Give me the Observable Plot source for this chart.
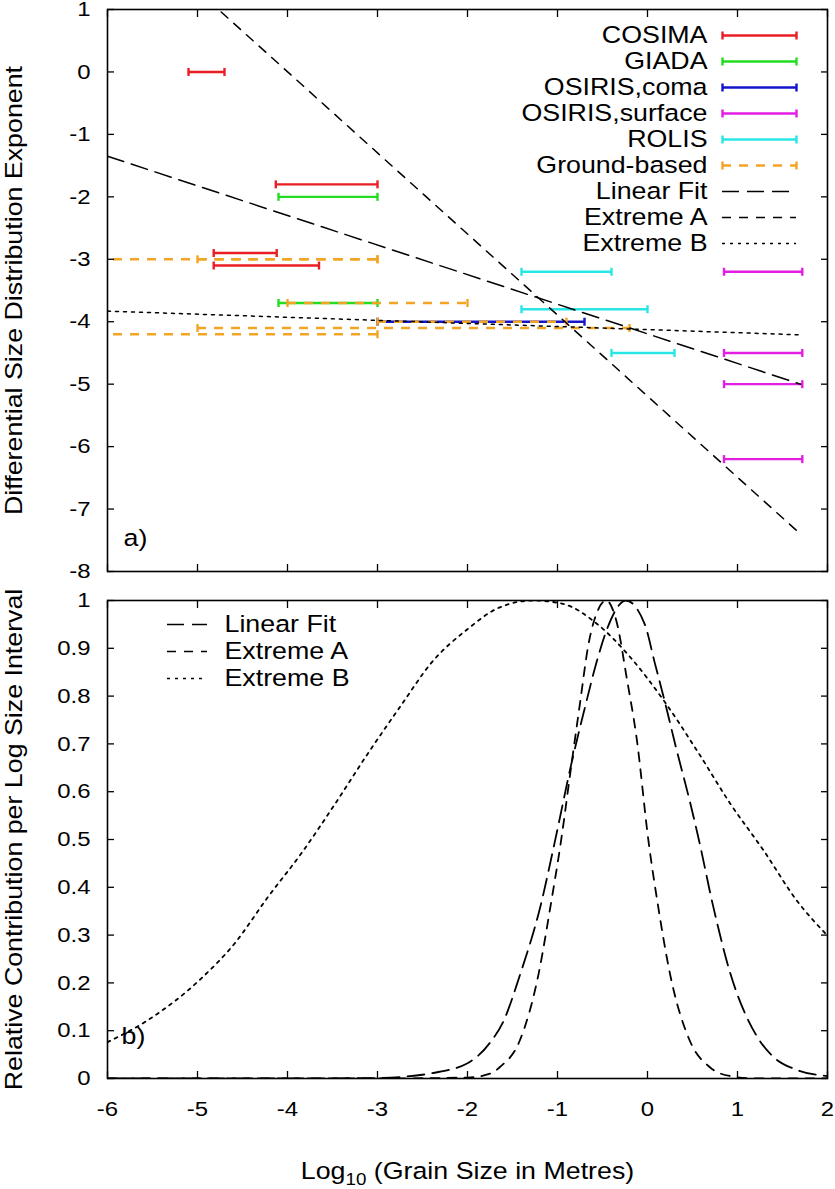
<!DOCTYPE html>
<html><head><meta charset="utf-8">
<script src="https://cdn.jsdelivr.net/npm/d3@7"></script>
<script src="https://cdn.jsdelivr.net/npm/@observablehq/plot@0.6"></script>
<style>
html,body{margin:0;padding:0;background:#fff;overflow:hidden;}
#wrap{position:relative;width:835px;height:1189px;}
#wrap svg{position:absolute;left:0;}
</style></head><body><div id="wrap"></div>
<script>
// ---------- tick values ----------
const xTicks = [-6, -5, -4, -3, -2, -1, 0, 1, 2];
const yTicksA = [-8, -7, -6, -5, -4, -3, -2, -1, 0, 1];
const yTicksB = [0, 0.1, 0.2, 0.3, 0.4, 0.5, 0.6, 0.7, 0.8, 0.9, 1];

// ---------- panel a) error bars (log10 size range, exponent) ----------
const cosimaLo = [-5.1, -4.13, -4.82, -4.82];
const cosimaHi = [-4.7, -3.0, -4.12, -3.65];
const cosimaY  = [0, -1.8, -2.9, -3.1];
const giadaLo = [-4.1, -4.1];
const giadaHi = [-3.0, -3.0];
const giadaY  = [-2.0, -3.7];
const osirisComaLo = [-3.0];
const osirisComaHi = [-0.7];
const osirisComaY  = [-4.0];
const osirisSurfLo = [0.85, 0.85, 0.85, 0.85];
const osirisSurfHi = [1.72, 1.72, 1.72, 1.72];
const osirisSurfY  = [-3.2, -4.5, -5.0, -6.2];
const rolisLo = [-1.4, -1.4, -0.4];
const rolisHi = [-0.4, 0.0, 0.3];
const rolisY  = [-3.2, -3.8, -4.5];
const groundLo = [-6.5, -5.0, -4.0, -3.0, -5.0, -6.5];
const groundHi = [-3.0, -3.0, -2.0, -0.9, -0.2, -3.0];
const groundY  = [-3.0, -3.0, -3.7, -4.0, -4.1, -4.2];

// ---------- panel a) fitted lines ----------
const fitX = [-6, 1.7],  fitY = [-1.35, -5.0];
const extAX = [-6, 1.7], extAY = [2.6, -7.4];
const extBX = [-6, 1.7], extBY = [-3.83, -4.21];

// ---------- panel b) curves (read from picture) ----------
const linX = [-6, -4, -3, -2.75, -2.4, -2.0, -1.75, -1.6, -1.42, -1.19, -1.03, -0.85, -0.69, -0.56, -0.45, -0.24, -0.03, 0.08, 0.19, 0.32, 0.47, 0.57, 0.73, 0.92, 1.21, 1.4, 1.66, 2.0];
const linY = [0, 0, 0.001, 0.003, 0.011, 0.032, 0.075, 0.12, 0.215, 0.36, 0.495, 0.655, 0.78, 0.875, 0.94, 1.0, 0.95, 0.87, 0.79, 0.69, 0.58, 0.5, 0.36, 0.22, 0.09, 0.045, 0.018, 0.005];
const aX = [-6, -3, -2.0, -1.75, -1.64, -1.42, -1.21, -1.08, -0.96, -0.85, -0.75, -0.66, -0.55, -0.46, -0.34, -0.23, -0.12, 0.01, 0.12, 0.25, 0.47, 0.69, 0.92, 1.2, 2];
const aY = [0, 0, 0.002, 0.01, 0.024, 0.079, 0.219, 0.358, 0.498, 0.65, 0.785, 0.904, 0.98, 1.0, 0.953, 0.837, 0.711, 0.498, 0.358, 0.219, 0.079, 0.024, 0.005, 0, 0];
const bX = [-6, -5.56, -4.96, -4.59, -4.22, -3.85, -3.48, -3.11, -2.74, -2.4, -2.0, -1.65, -1.27, -0.94, -0.56, -0.19, 0.18, 0.55, 0.92, 1.29, 1.66, 2.0];
const bY = [0.076, 0.121, 0.209, 0.282, 0.379, 0.47, 0.572, 0.679, 0.78, 0.87, 0.94, 0.985, 1.0, 0.993, 0.951, 0.881, 0.791, 0.686, 0.575, 0.477, 0.372, 0.299];

// ---------- legend labels ----------
const legendA = ["COSIMA", "GIADA", "OSIRIS,coma", "OSIRIS,surface", "ROLIS", "Ground-based", "Linear Fit", "Extreme A", "Extreme B"];
const legendB = ["Linear Fit", "Extreme A", "Extreme B"];

// ---------- styles ----------
const FONT = '"Liberation Sans", Arial, Helvetica, sans-serif';
const C = {red: "#ea1c24", green: "#22dd22", blue: "#1414cc", magenta: "#e21ee2", cyan: "#28e6e6", orange: "#f2a524", black: "#000"};
const DASH = {fit: "17,8", extA: "9,8", extB: "3,5", ground: "9,8"};
const cap = {draw(ctx, size) { const h = Math.sqrt(size / Math.PI); ctx.moveTo(0, -h); ctx.lineTo(0, h); }};
const W = 835;
const ML = 107, MR = 8;
const FS_TICK = 21, FS_TEXT = 23.5, STRETCH = 1.14;

function pts(xs, ys) { return xs.map((x, i) => ({x, y: ys[i]})); }
function bars(lo, hi, ys, color, dash) {
  const data = ys.map((y, i) => ({lo: lo[i], hi: hi[i], y}));
  const o = {stroke: color, strokeWidth: 2.4, clip: true};
  return [
    Plot.ruleY(data, {y: "y", x1: "lo", x2: "hi", ...o, strokeDasharray: dash}),
    Plot.dot(data, {x: "lo", y: "y", symbol: cap, r: 4, fill: "none", ...o}),
    Plot.dot(data, {x: "hi", y: "y", symbol: cap, r: 4, fill: "none", ...o})
  ];
}
function inTicks(yt) {
  const o = {tickSize: -7, tickFormat: () => "", strokeWidth: 1.3, label: null};
  return [
    Plot.axisX(xTicks, {anchor: "bottom", ...o}),
    Plot.axisX(xTicks, {anchor: "top", ...o}),
    Plot.axisY(yt, {anchor: "left", ...o}),
    Plot.axisY(yt, {anchor: "right", ...o})
  ];
}
// widen glyphs horizontally (along text direction) to match the reference lettering
function stretchText(svg) {
  svg.querySelectorAll("text").forEach(t => {
    if (!t.textContent) return;
    const tr = t.getAttribute("transform") || "";
    t.setAttribute("transform", (tr + ` scale(${STRETCH},1)`).trim());
  });
}

// ---------- panel a ----------
const HA = 586;
const panelA = Plot.plot({
  width: W, height: HA, marginTop: 9, marginBottom: 15, marginLeft: ML, marginRight: MR,
  style: {fontFamily: FONT, color: "#000", background: "transparent", overflow: "visible"},
  x: {domain: [-6, 2]},
  y: {domain: [-8, 1]},
  marks: [
    ...bars(cosimaLo, cosimaHi, cosimaY, C.red),
    ...bars(giadaLo, giadaHi, giadaY, C.green),
    ...bars(osirisComaLo, osirisComaHi, osirisComaY, C.blue),
    ...bars(osirisSurfLo, osirisSurfHi, osirisSurfY, C.magenta),
    ...bars(rolisLo, rolisHi, rolisY, C.cyan),
    ...bars(groundLo, groundHi, groundY, C.orange, DASH.ground),
    Plot.line(pts(fitX, fitY), {x: "x", y: "y", stroke: "#000", strokeWidth: 1.5, strokeDasharray: DASH.fit, clip: true}),
    Plot.line(pts(extAX, extAY), {x: "x", y: "y", stroke: "#000", strokeWidth: 1.5, strokeDasharray: DASH.extA, clip: true}),
    Plot.line(pts(extBX, extBY), {x: "x", y: "y", stroke: "#000", strokeWidth: 1.5, strokeDasharray: DASH.extB, clip: true}),
    Plot.frame({stroke: "#000", strokeWidth: 1.6}),
    ...inTicks(yTicksA),
    Plot.axisY(yTicksA, {anchor: "left", tickSize: 0, tickPadding: 17, tickFormat: d => String(d), fontSize: FS_TICK, label: null}),
    Plot.text(["Differential Size Distribution Exponent"], {frameAnchor: "left", rotate: -90, dx: -93, fontSize: FS_TEXT, textAnchor: "middle", lineAnchor: "middle"}),
    Plot.text(["a)"], {frameAnchor: "bottom-left", dx: 16, dy: -33, fontSize: FS_TEXT, textAnchor: "start", lineAnchor: "middle"})
  ]
});
panelA.style.top = "0px";

// legend overlay for panel a
const itemsA = [
  {name: legendA[0], color: C.red, bar: true},
  {name: legendA[1], color: C.green, bar: true},
  {name: legendA[2], color: C.blue, bar: true},
  {name: legendA[3], color: C.magenta, bar: true},
  {name: legendA[4], color: C.cyan, bar: true},
  {name: legendA[5], color: C.orange, bar: true, dash: DASH.ground},
  {name: legendA[6], color: C.black, dash: DASH.fit},
  {name: legendA[7], color: C.black, dash: DASH.extA},
  {name: legendA[8], color: C.black, dash: DASH.extB}
];
function legendMarks(items, textSide, textDx, fontSize) {
  const marks = [];
  for (const it of items) {
    const row = [it];
    const w = it.bar ? 2.4 : 1.5;
    marks.push(Plot.ruleY(row, {y: "name", x1: () => 0, x2: () => 1, stroke: it.color, strokeWidth: w, strokeDasharray: it.dash}));
    if (it.bar) {
      marks.push(Plot.dot(row, {x: () => 0, y: "name", symbol: cap, r: 4, fill: "none", stroke: it.color, strokeWidth: w}));
      marks.push(Plot.dot(row, {x: () => 1, y: "name", symbol: cap, r: 4, fill: "none", stroke: it.color, strokeWidth: w}));
    }
  }
  marks.push(Plot.text(items, {x: () => textSide, y: "name", text: "name", textAnchor: textSide === 0 ? "end" : "start", dx: textDx, fontSize, lineAnchor: "middle"}));
  return marks;
}
const legA = Plot.plot({
  width: W, height: HA, margin: 0,
  style: {fontFamily: FONT, color: "#000", background: "transparent", overflow: "visible", pointerEvents: "none"},
  x: {domain: [0, 1], range: [722, 796], axis: null},
  y: {type: "point", domain: legendA, range: [31.7, 246.7], padding: 0, axis: null},
  marks: legendMarks(itemsA, 0, -15, FS_TEXT)
});
legA.style.top = "0px";

// ---------- panel b ----------
const HB = 1189 - HA;
const panelB = Plot.plot({
  width: W, height: HB, marginTop: 14, marginBottom: HB - 14 - 478, marginLeft: ML, marginRight: MR,
  style: {fontFamily: FONT, color: "#000", background: "transparent", overflow: "visible"},
  x: {domain: [-6, 2]},
  y: {domain: [0, 1]},
  marks: [
    Plot.text(["b)"], {frameAnchor: "bottom-left", dx: 14, dy: -42, fontSize: FS_TEXT, textAnchor: "start", lineAnchor: "middle"}),
    Plot.line(pts(linX, linY), {x: "x", y: "y", curve: "monotone-x", stroke: "#000", strokeWidth: 1.8, strokeDasharray: DASH.fit, clip: true}),
    Plot.line(pts(aX, aY), {x: "x", y: "y", curve: "monotone-x", stroke: "#000", strokeWidth: 1.8, strokeDasharray: DASH.extA, clip: true}),
    Plot.line(pts(bX, bY), {x: "x", y: "y", curve: "monotone-x", stroke: "#000", strokeWidth: 1.8, strokeDasharray: DASH.extB, clip: true}),
    Plot.frame({stroke: "#000", strokeWidth: 1.6}),
    ...inTicks(yTicksB),
    Plot.axisY(yTicksB, {anchor: "left", tickSize: 0, tickPadding: 17, tickFormat: d => String(d), fontSize: FS_TICK, label: null}),
    Plot.axisX(xTicks, {anchor: "bottom", tickSize: 0, tickPadding: 23, tickFormat: d => String(d), fontSize: FS_TICK, label: null}),
    Plot.text(["Relative Contribution per Log Size Interval"], {frameAnchor: "left", rotate: -90, dx: -93, fontSize: FS_TEXT, textAnchor: "middle", lineAnchor: "middle"}),
    Plot.text(["Log10 (Grain Size in Metres)"], {frameAnchor: "bottom", dy: 100, fontSize: FS_TEXT, textAnchor: "middle", lineAnchor: "bottom"})
  ]
});
panelB.style.top = HA + "px";

const itemsB = [
  {name: legendB[0], color: C.black, dash: DASH.fit},
  {name: legendB[1], color: C.black, dash: DASH.extA},
  {name: legendB[2], color: C.black, dash: DASH.extB}
];
const legB = Plot.plot({
  width: W, height: HB, margin: 0,
  style: {fontFamily: FONT, color: "#000", background: "transparent", overflow: "visible", pointerEvents: "none"},
  x: {domain: [0, 1], range: [167, 207], axis: null},
  y: {type: "point", domain: legendB, range: [623.3 - HA, 678.3 - HA], padding: 0, axis: null},
  marks: legendMarks(itemsB, 1, 17, FS_TEXT)
});
legB.style.top = HA + "px";

// subscript "10" in the x-axis title
const NS = "http://www.w3.org/2000/svg";
const xt = [...panelB.querySelectorAll("text")].find(e => e.textContent.startsWith("Log10"));
if (xt) {
  const rest = xt.textContent.slice(5);
  xt.textContent = "Log";
  const sub = document.createElementNS(NS, "tspan");
  sub.setAttribute("font-size", "70%"); sub.setAttribute("dy", "6"); sub.textContent = "10";
  const tail = document.createElementNS(NS, "tspan");
  tail.setAttribute("dy", "-6"); tail.textContent = rest;
  xt.append(sub, tail);
}

[panelA, legA, panelB, legB].forEach(stretchText);
const wrap = document.getElementById("wrap");
wrap.append(panelA, legA, panelB, legB);
</script>
</body></html>
